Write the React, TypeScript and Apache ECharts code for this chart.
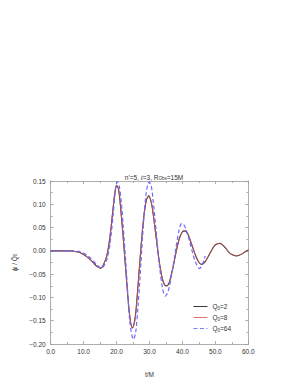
import React, { useEffect, useRef } from "react";
import * as echarts from "echarts";

const tBlack = [0, 2, 4, 6, 7, 8, 9, 10, 11, 12, 13, 14, 15, 15.5, 16, 17, 18, 19, 19.5, 20, 20.5, 21, 22, 23, 24, 24.8, 25.5, 26, 27, 28, 29, 29.8, 30.5, 31, 32, 33, 34, 35, 35.5, 36, 37, 38, 39, 40, 40.8, 41.5, 42, 43, 44, 45, 45.9, 47, 48, 49, 50, 51.3, 52, 53, 54, 55, 56.5, 57, 58, 59, 60];
const vBlack = [0, 0, 0, 0, -0.001, -0.002, -0.004, -0.008, -0.013, -0.019, -0.026, -0.033, -0.037, -0.036, -0.030, -0.012, 0.030, 0.095, 0.125, 0.140, 0.135, 0.110, 0.030, -0.060, -0.140, -0.165, -0.150, -0.120, -0.030, 0.055, 0.108, 0.118, 0.105, 0.085, 0.030, -0.025, -0.062, -0.075, -0.074, -0.068, -0.040, -0.005, 0.025, 0.041, 0.043, 0.038, 0.030, 0.010, -0.010, -0.025, -0.029, -0.022, -0.010, 0.003, 0.013, 0.016, 0.014, 0.007, -0.002, -0.008, -0.011, -0.010, -0.007, -0.002, 0.002];
const vRed = [0, 0, 0, 0, -0.001, -0.002, -0.004, -0.008, -0.013, -0.019, -0.026, -0.033, -0.037, -0.036, -0.030, -0.012, 0.031, 0.096, 0.126, 0.141, 0.136, 0.111, 0.030, -0.061, -0.141, -0.167, -0.152, -0.121, -0.030, 0.056, 0.109, 0.119, 0.106, 0.086, 0.030, -0.025, -0.063, -0.076, -0.075, -0.069, -0.040, -0.005, 0.025, 0.041, 0.044, 0.038, 0.030, 0.010, -0.010, -0.025, -0.029, -0.022, -0.010, 0.003, 0.013, 0.016, 0.014, 0.007, -0.002, -0.008, -0.011, -0.010, -0.007, -0.002, 0.002];

const tBlue = [0, 2, 4, 6, 7, 8, 9, 10, 11, 12, 13, 14, 15, 15.5, 16, 17, 18, 19, 19.5, 20.2, 20.8, 21.5, 22, 23, 24, 25.1, 25.8, 26.5, 27, 28, 29, 29.9, 30.5, 31, 32, 33, 34, 34.8, 35.5, 36, 37, 38, 39, 39.8, 40.5, 41, 42, 43, 44, 45.2, 46, 46.9];
const vBlue = [0, 0, 0, 0, 0, -0.001, -0.002, -0.005, -0.009, -0.015, -0.022, -0.030, -0.036, -0.037, -0.034, -0.020, 0.015, 0.080, 0.120, 0.148, 0.140, 0.100, 0.055, -0.045, -0.150, -0.190, -0.175, -0.120, -0.070, 0.040, 0.125, 0.148, 0.140, 0.115, 0.045, -0.030, -0.082, -0.097, -0.090, -0.078, -0.040, 0.005, 0.045, 0.059, 0.055, 0.048, 0.025, -0.002, -0.025, -0.038, -0.030, -0.011];

const seriesNames = ["Q0=2", "Q0=8", "Q0=64"];
const legendValues = ["2", "8", "64"];

const FONT = "Liberation Sans";

function pairs(t: number[], v: number[]) {
  return t.map((x, i) => [x, v[i]]);
}

export default function App() {
  const ref = useRef<HTMLDivElement>(null);
  useEffect(() => {
    if (!ref.current) return;
    const chart = echarts.init(ref.current, undefined, { renderer: "svg" });
    const axisLine = { show: true, onZero: false, lineStyle: { color: "#999", width: 0.8 } };
    const tick = { show: true, inside: true, length: 3, lineStyle: { color: "#999", width: 0.8 } };
    const minor = { show: true, splitNumber: 2, length: 2, lineStyle: { color: "#999", width: 0.8 } };
    const labelStyle = { fontFamily: FONT, fontSize: 6.5, color: "#333" };
    const sub = { fontFamily: FONT, fontSize: 4.5, color: "#333", verticalAlign: "bottom", padding: [3, 0, 0, 0] };
    const fmtY = (v: number) => {
      const s = Math.abs(v).toFixed(2);
      return v < -1e-9 ? "\u2212" + s : s;
    };
    chart.setOption({
      animation: false,
      title: {
        text: "n'=5, {i|\u2113}=3, R{s|Obs}=15M",
        left: 149,
        textAlign: "center",
        top: 168,
        textStyle: {
          fontFamily: FONT,
          fontSize: 6.5,
          fontWeight: "normal",
          color: "#333",
          rich: {
            i: { fontFamily: FONT, fontSize: 6.5, fontStyle: "italic", color: "#333" },
            s: sub,
          },
        },
      },
      grid: { left: 50.7, right: 51.7, top: 181, bottom: 44 },
      legend: {
        orient: "vertical",
        left: 188,
        top: 298,
        itemWidth: 14,
        itemHeight: 6,
        itemGap: 3.5,
        data: seriesNames,
        itemStyle: { opacity: 0 },
        lineStyle: { width: 0.9 },
        formatter: (name: string) => {
          const i = seriesNames.indexOf(name);
          return "Q{s|0}=" + legendValues[i];
        },
        textStyle: {
          fontFamily: FONT,
          fontSize: 6.5,
          color: "#333",
          rich: { s: sub },
        },
      },
      xAxis: [
        {
          type: "value",
          min: 0,
          max: 60,
          interval: 10,
          name: "t/M",
          nameLocation: "middle",
          nameGap: 27,
          nameTextStyle: { fontFamily: FONT, fontSize: 6.5, color: "#333" },
          axisLine,
          axisTick: tick,
          minorTick: minor,
          splitLine: { show: false },
          axisLabel: { ...labelStyle, margin: 4, formatter: (v: number) => v.toFixed(1) },
        },
        {
          type: "value",
          position: "top",
          min: 0,
          max: 60,
          interval: 10,
          axisLine,
          axisTick: tick,
          minorTick: minor,
          splitLine: { show: false },
          axisLabel: { show: false },
        },
      ],
      yAxis: [
        {
          type: "value",
          min: -0.2,
          max: 0.15,
          interval: 0.05,
          name: "{i|\u03d5}{s|l}{i| / Q\u0303}{s|0}",
          nameLocation: "middle",
          nameGap: 29,
          nameTextStyle: {
            fontFamily: FONT,
            fontSize: 6.5,
            color: "#333",
            rich: {
              i: { fontFamily: FONT, fontSize: 6.5, color: "#333" },
              s: sub,
            },
          },
          axisLine,
          axisTick: tick,
          minorTick: minor,
          splitLine: { show: false },
          axisLabel: { ...labelStyle, margin: 5, formatter: fmtY },
        },
        {
          type: "value",
          position: "right",
          min: -0.2,
          max: 0.15,
          interval: 0.05,
          axisLine,
          axisTick: tick,
          minorTick: minor,
          splitLine: { show: false },
          axisLabel: { show: false },
        },
      ],
      series: [
        {
          name: seriesNames[0],
          type: "line",
          smooth: 0.3,
          symbol: "none",
          data: pairs(tBlack, vBlack),
          lineStyle: { color: "#222", width: 1.1 },
          itemStyle: { color: "#222" },
          z: 2,
        },
        {
          name: seriesNames[1],
          type: "line",
          smooth: 0.3,
          symbol: "none",
          data: pairs(tBlack, vRed),
          lineStyle: { color: "#e06060", width: 0.8 },
          itemStyle: { color: "#e06060" },
          z: 3,
        },
        {
          name: seriesNames[2],
          type: "line",
          smooth: 0.3,
          symbol: "none",
          data: pairs(tBlue, vBlue),
          lineStyle: { color: "#6b6bff", width: 1.2, type: [4, 2.5] },
          itemStyle: { color: "#6b6bff" },
          z: 4,
        },
      ],
    });
    return () => chart.dispose();
  }, []);
  return <div ref={ref} style={{ width: 300, height: 388, position: "absolute", left: 0, top: 0 }} />;
}
